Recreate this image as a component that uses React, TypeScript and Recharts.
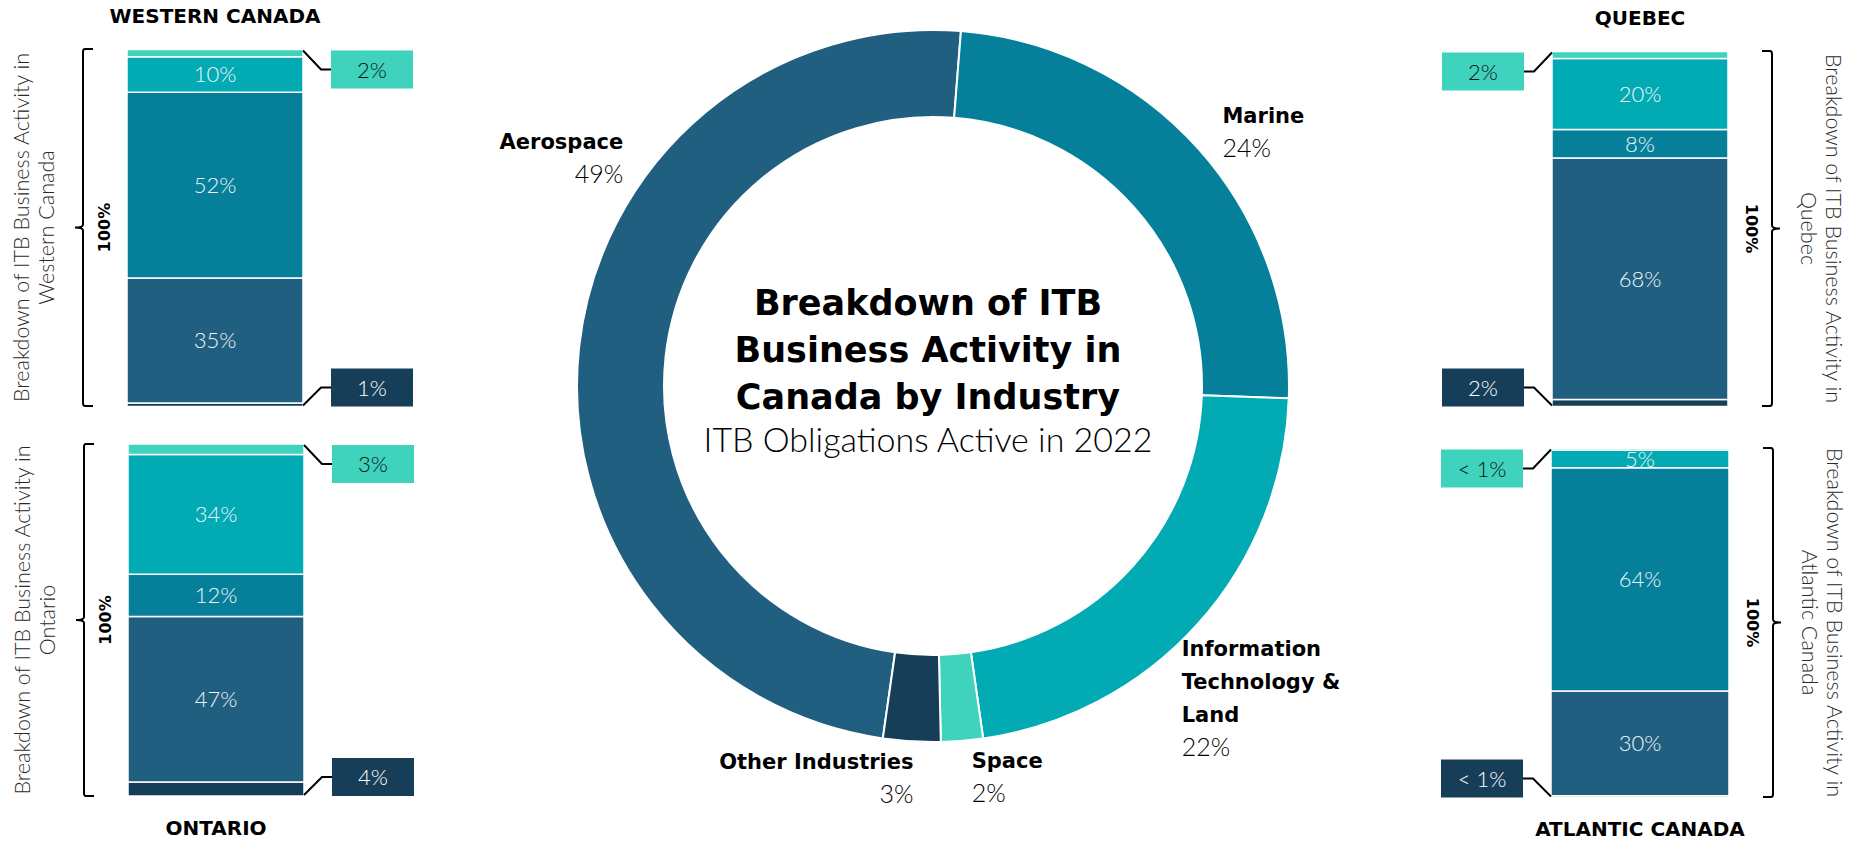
import React from 'react'
import { PieChart, Pie, Cell, BarChart, Bar, XAxis, YAxis, LabelList } from 'recharts'

const industries = ['Aerospace', 'Marine', 'Information Technology & Land', 'Space', 'Other Industries']
const canadaShare = [49.0, 24.3, 22.2, 1.9, 2.6]

// regional splits (stacked bars), same order as regions
const regions = ['Western Canada', 'Ontario', 'Quebec', 'Atlantic Canada']
const otherShare = [1, 4, 2, 0.5]
const aerospaceShare = [35, 47, 68, 30]
const marineShare = [52, 12, 8, 64]
const itLandShare = [10, 34, 20, 5]
const spaceShare = [2, 3, 2, 0.5]

const colors: Record<string, string> = {
  Aerospace: '#205f80',
  Marine: '#06809a',
  'Information Technology & Land': '#02aab4',
  Space: '#3fd3bd',
  'Other Industries': '#173e58',
}

const BOLD = '"DejaVu Sans", sans-serif'
const LIGHT = 'Lato, sans-serif'

// where each regional bar sits on the page
const regionLayout = [
  { x: 127, y: 49, w: 176, h: 357, side: 'right', title: 'top' },
  { x: 128, y: 444, w: 176, h: 352, side: 'right', title: 'bottom' },
  { x: 1552, y: 51, w: 176, h: 355, side: 'left', title: 'top' },
  { x: 1551, y: 448, w: 178, h: 349, side: 'left', title: 'bottom' },
]

// hand-placed donut labels, offsets from the default spot
const pieLabelNudge: Record<string, [number, number]> = {
  Aerospace: [64, -187],
  Marine: [9, -4],
  'Information Technology & Land': [-31, -6],
  Space: [8, -17],
  'Other Industries': [3, -17],
}

const pieData = industries.map((name, i) => ({ name, share: canadaShare[i] }))

const wrap = (s: string, max: number) => {
  const out: string[] = []
  let cur = ''
  s.split(' ').forEach((w) => {
    const next = cur ? cur + ' ' + w : w
    if (next.length > max && cur) {
      out.push(cur)
      cur = w
    } else cur = next
  })
  if (cur) out.push(cur)
  return out
}

const pct = (v: number) => (v < 1 ? '< 1%' : `${Math.round(v)}%`)

const renderPieLabel = (props: any) => {
  const { cx, cy, midAngle, outerRadius, name, value } = props
  const r = outerRadius + 20
  const rad = (-midAngle * Math.PI) / 180
  const [dx, dy] = pieLabelNudge[name] ?? [0, 0]
  const x = cx + r * Math.cos(rad) + dx
  const y0 = cy + r * Math.sin(rad) + dy
  const lines = wrap(name, 16)
  const lineH = 33
  const total = lines.length + 1
  const top = y0 < cy ? y0 - (total * lineH) / 2 : y0
  const anchor = x >= cx ? 'start' : 'end'
  return (
    <g>
      {lines.map((l, i) => (
        <text key={i} x={x} y={top + lineH * (i + 0.5) + 8} textAnchor={anchor} fontFamily={BOLD} fontWeight="bold" fontSize={21} fill="#000">
          {l}
        </text>
      ))}
      <text x={x} y={top + lineH * (lines.length + 0.5) + 9} textAnchor={anchor} fontFamily={LIGHT} fontWeight={300} fontSize={25} fill="#000">
        {pct(value)}
      </text>
    </g>
  )
}

const Callout = (props: any) => {
  const { side, at, fill, ink, value } = props
  const vb = props.viewBox ?? props
  const { x, y, width, height } = vb
  const right = side === 'right'
  const edge = right ? x + width : x
  const dir = right ? 1 : -1
  const yEnd = at === 'top' ? y + 1 : y + height - 1
  const boxW = 82
  const boxH = 38
  const boxY = at === 'top' ? yEnd : yEnd - boxH + 1
  const elbowY = boxY + boxH / 2
  const boxX = right ? edge + 28 : edge - 28 - boxW
  return (
    <g>
      <path d={`M${edge},${yEnd} L${edge + dir * 18},${elbowY} L${edge + dir * 28},${elbowY}`} stroke="#000" strokeWidth={2} fill="none" />
      <rect x={boxX} y={boxY} width={boxW} height={boxH} fill={fill} />
      <text x={boxX + boxW / 2} y={boxY + boxH / 2 + 8} textAnchor="middle" fontFamily={LIGHT} fontWeight={300} fontSize={22} fill={ink}>
        {pct(value)}
      </text>
    </g>
  )
}

const CW = 480
const CH = 440

const RegionBar = ({ i }: { i: number }) => {
  const lay = regionLayout[i]
  const L = (CW - lay.w) / 2
  const T = (CH - lay.h) / 2
  const data = [
    {
      region: regions[i],
      other: otherShare[i],
      aerospace: aerospaceShare[i],
      marine: marineShare[i],
      itLand: itLandShare[i],
      space: spaceShare[i],
    },
  ]
  const inside = (key: string) => (
    <LabelList dataKey={key} position="center" fill="#eef6f8" fontFamily={LIGHT} fontWeight={300} fontSize={22} formatter={(v: any) => `${v}%`} />
  )
  return (
    <div style={{ position: 'absolute', left: lay.x - L, top: lay.y - T }}>
      <BarChart width={CW} height={CH} data={data} margin={{ top: T, bottom: T, left: L, right: L }} barCategoryGap={0}>
        <XAxis dataKey="region" hide />
        <YAxis hide domain={[0, 100]} />
        <Bar dataKey="other" stackId="a" fill={colors['Other Industries']} stroke="#fff" strokeWidth={1.5} isAnimationActive={false}>
          <LabelList dataKey="other" content={(p: any) => <Callout {...p} side={lay.side} at="bottom" fill={colors['Other Industries']} ink="#ffffff" />} />
        </Bar>
        <Bar dataKey="aerospace" stackId="a" fill={colors.Aerospace} stroke="#fff" strokeWidth={1.5} isAnimationActive={false}>
          {inside('aerospace')}
        </Bar>
        <Bar dataKey="marine" stackId="a" fill={colors.Marine} stroke="#fff" strokeWidth={1.5} isAnimationActive={false}>
          {inside('marine')}
        </Bar>
        <Bar dataKey="itLand" stackId="a" fill={colors['Information Technology & Land']} stroke="#fff" strokeWidth={1.5} isAnimationActive={false}>
          {inside('itLand')}
        </Bar>
        <Bar dataKey="space" stackId="a" fill={colors.Space} stroke="#fff" strokeWidth={1.5} isAnimationActive={false}>
          <LabelList dataKey="space" content={(p: any) => <Callout {...p} side={lay.side} at="top" fill={colors.Space} ink="#111" />} />
        </Bar>
      </BarChart>
    </div>
  )
}

const RegionDecor = ({ i }: { i: number }) => {
  const lay = regionLayout[i]
  const midY = lay.y + lay.h / 2
  const left = lay.side === 'right' // callouts on the right, brace on the left
  const y0 = lay.y
  const y1 = lay.y + lay.h
  const bx = left ? lay.x - 44 : lay.x + lay.w + 44
  const d = left ? 1 : -1
  const brace = `M${bx + d * 10},${y0} L${bx + d * 2},${y0} Q${bx},${y0} ${bx},${y0 + 3} L${bx},${midY - 3} Q${bx},${midY} ${bx - d * 8},${midY} Q${bx},${midY} ${bx},${midY + 3} L${bx},${y1 - 3} Q${bx},${y1} ${bx + d * 2},${y1} L${bx + d * 10},${y1}`
  const hundredX = left ? lay.x - 23 : lay.x + lay.w + 24
  const rot = left ? -90 : 90
  const line1X = left ? lay.x - 105 : lay.x + lay.w + 105
  const line2X = left ? lay.x - 80 : lay.x + lay.w + 80
  const titleY = lay.title === 'top' ? lay.y - 33 : y1 + 32
  const cx = lay.x + lay.w / 2
  return (
    <g>
      <text x={cx} y={titleY + 7} textAnchor="middle" fontFamily={BOLD} fontWeight="bold" fontSize={20} fill="#000">
        {regions[i].toUpperCase()}
      </text>
      <path d={brace} stroke="#000" strokeWidth={2} fill="none" />
      <text transform={`translate(${hundredX},${midY}) rotate(${rot})`} y={6} textAnchor="middle" fontFamily={BOLD} fontWeight="bold" fontSize={16} fill="#000">
        100%
      </text>
      <text transform={`translate(${line1X},${midY}) rotate(${rot})`} y={7} textAnchor="middle" fontFamily={LIGHT} fontWeight={300} fontSize={21.5} fill="#2a2a2a">
        Breakdown of ITB Business Activity in
      </text>
      <text transform={`translate(${line2X},${midY}) rotate(${rot})`} y={7} textAnchor="middle" fontFamily={LIGHT} fontWeight={300} fontSize={21.5} fill="#2a2a2a">
        {regions[i]}
      </text>
    </g>
  )
}

export default function App() {
  return (
    <div style={{ position: 'relative', width: 1858, height: 844, overflow: 'hidden', background: '#fff' }}>
      <style>{'body{margin:0}'}</style>
      <div style={{ position: 'absolute', left: 0, top: 0 }}>
        <PieChart width={1858} height={844}>
          <Pie
            data={pieData}
            dataKey="share"
            nameKey="name"
            cx={928}
            cy={381}
            innerRadius={269}
            outerRadius={356}
            startAngle={-98.1}
            endAngle={-458.1}
            stroke="#fff"
            strokeWidth={2}
            label={renderPieLabel}
            labelLine={false}
            isAnimationActive={false}
          >
            {pieData.map((d) => (
              <Cell key={d.name} fill={colors[d.name]} />
            ))}
          </Pie>
        </PieChart>
      </div>
      {regions.map((r, i) => (
        <RegionBar key={r} i={i} />
      ))}
      <svg width={1858} height={844} style={{ position: 'absolute', left: 0, top: 0, pointerEvents: 'none' }}>
        {regions.map((r, i) => (
          <RegionDecor key={r} i={i} />
        ))}
        <g fontFamily={BOLD} fontWeight="bold" fontSize={35} fill="#000" textAnchor="middle">
          <text x={928} y={302 + 13}>Breakdown of ITB</text>
          <text x={928} y={349 + 13}>Business Activity in</text>
          <text x={928} y={396 + 13}>Canada by Industry</text>
        </g>
        <text x={928} y={440 + 12} textAnchor="middle" fontFamily={LIGHT} fontWeight={300} fontSize={34} fill="#000">
          ITB Obligations Active in 2022
        </text>
      </svg>
    </div>
  )
}
